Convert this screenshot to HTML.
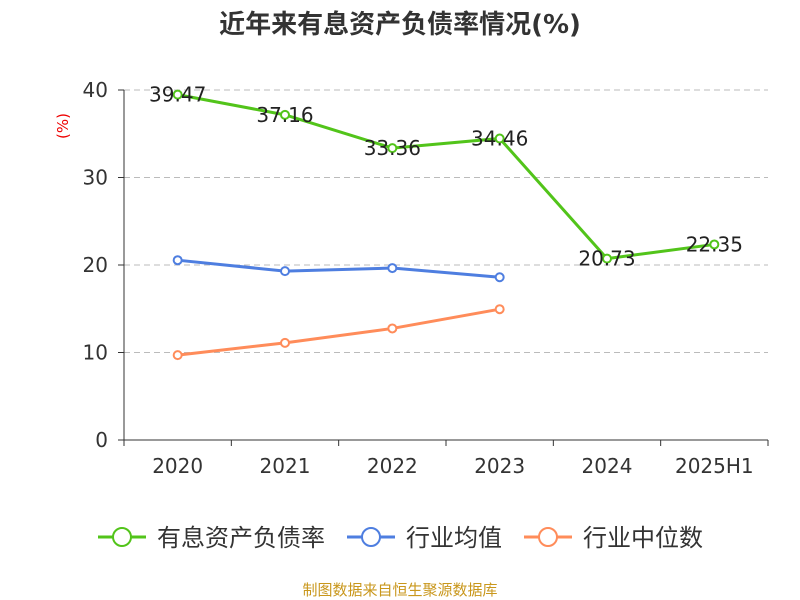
<!DOCTYPE html>
<html><head><meta charset="utf-8"><style>
body{margin:0;background:#fff;}
svg{display:block;font-family:"DejaVu Sans","Noto Sans CJK SC",sans-serif;}
</style></head><body>
<svg id="chart" width="800" height="600">
<text x="400" y="33" text-anchor="middle" font-size="26" font-weight="bold" fill="#333">近年来有息资产负债率情况(%)</text>
<text x="68" y="126" font-size="15" fill="#e00" transform="rotate(-90 68 126)" text-anchor="middle">(%)</text>
<g id="grid"></g><g id="axes"></g><g id="series"></g>
<g font-size="24" fill="#333">
<g><line x1="98" y1="537" x2="146" y2="537" stroke="#52c41a" stroke-width="3"/><circle cx="122" cy="537" r="9" fill="#fff" stroke="#52c41a" stroke-width="2"/><text x="157" y="546">有息资产负债率</text></g>
<g><line x1="347" y1="537" x2="395" y2="537" stroke="#4e7ee0" stroke-width="3"/><circle cx="371" cy="537" r="9" fill="#fff" stroke="#4e7ee0" stroke-width="2"/><text x="406" y="546">行业均值</text></g>
<g><line x1="524" y1="537" x2="572" y2="537" stroke="#ff8c5a" stroke-width="3"/><circle cx="548" cy="537" r="9" fill="#fff" stroke="#ff8c5a" stroke-width="2"/><text x="583" y="546">行业中位数</text></g>
</g>
<text x="400" y="595" text-anchor="middle" font-size="15" fill="#c9971c">制图数据来自恒生聚源数据库</text>
</svg>
<script>
const categories=["2020","2021","2022","2023","2024","2025H1"];
const debtRatio=[39.47,37.16,33.36,34.46,20.73,22.35];
const industryAvg=[20.55,19.3,19.65,18.6];
const industryMedian=[9.7,11.1,12.75,14.95];
const yTicks=[0,10,20,30,40];
const NS="http://www.w3.org/2000/svg";
const x0=124,x1=768,yB=440,yT=90,yMax=40;
const bw=(x1-x0)/categories.length;
const xs=i=>x0+bw*(i+0.5);
const ys=v=>yB-(v/yMax)*(yB-yT);
function mk(tag,attrs,parent){const e=document.createElementNS(NS,tag);for(const k in attrs)e.setAttribute(k,attrs[k]);parent.appendChild(e);return e;}
const grid=document.getElementById('grid'),axes=document.getElementById('axes'),series=document.getElementById('series');
yTicks.forEach(t=>{
 if(t>0){const g=mk('line',{x1:x0,x2:x1,y1:ys(t),y2:ys(t),stroke:'#bbb','stroke-dasharray':'6,4'},grid);
 
 }
 const tk=mk('line',{x1:x0-6,x2:x0,y1:ys(t),y2:ys(t),stroke:'#333'},axes);
 
 
 const lb=mk('text',{x:x0-16,y:ys(t)+7,'text-anchor':'end','font-size':20,fill:'#333'},axes);lb.textContent=t;
 
 
});
const ya=mk('line',{x1:x0,x2:x0,y1:yT,y2:yB,stroke:'#333'},axes);


const xa=mk('line',{x1:x0,x2:x1,y1:yB,y2:yB,stroke:'#333'},axes);


for(let i=0;i<=categories.length;i++){const t=mk('line',{x1:x0+bw*i,x2:x0+bw*i,y1:yB,y2:yB+6,stroke:'#333'},axes);
 
 }
categories.forEach((c,i)=>{const l=mk('text',{x:xs(i),y:yB+33,'text-anchor':'middle','font-size':20,fill:'#333'},axes);l.textContent=c;
 
 });
function draw(vals,color,name,labels){
 const g=mk('g',{},series);
 
 
 const pl=mk('polyline',{points:vals.map((v,i)=>xs(i)+','+ys(v)).join(' '),fill:'none',stroke:color,'stroke-width':3},g);
 
 
 vals.forEach((v,i)=>{const c=mk('circle',{cx:xs(i),cy:ys(v),r:4,fill:'#fff',stroke:color,'stroke-width':2},g);
  
  
  if(labels){const t=mk('text',{x:xs(i),y:ys(v)+7,'text-anchor':'middle','font-size':20,fill:'#222'},g);t.textContent=v.toFixed(2);
   
   }
 });
}
draw(industryMedian,'#ff8c5a','industry-median',false);
draw(industryAvg,'#4e7ee0','industry-average',false);
draw(debtRatio,'#52c41a','debt-ratio',true);
</script>
</body></html>
